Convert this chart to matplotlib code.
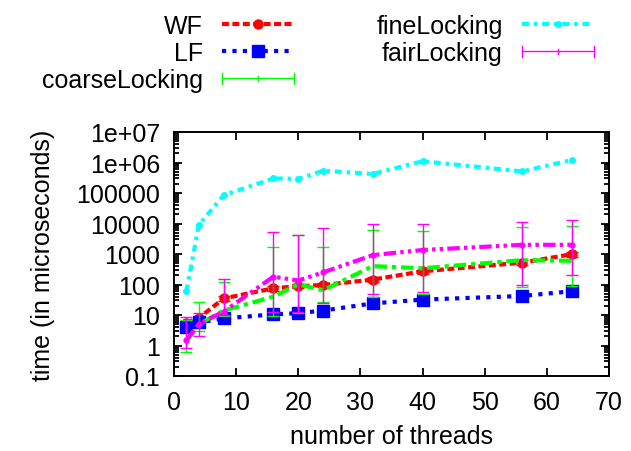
import matplotlib
matplotlib.use('Agg')
import matplotlib.pyplot as plt
from matplotlib.lines import Line2D
from matplotlib.legend_handler import HandlerBase
from matplotlib.ticker import LogLocator, FixedLocator, FixedFormatter, NullFormatter

plt.rcParams['font.family'] = ['Liberation Sans', 'DejaVu Sans']
plt.rcParams['lines.scale_dashes'] = False

# data (time in microseconds)
threads = [2, 4, 8, 16, 20, 24, 32, 40, 56, 64]

wf = [5.5, 8, 35, 75, 88, 96, 145, 270, 520, 980]
wf_lo = [4.5, 6.5, 29, 63, 74, 80, 122, 228, 440, 820]
wf_hi = [6.6, 9.6, 42, 90, 105, 115, 172, 320, 620, 1170]

lf = [4, 5.7, 7.7, 10.5, 11.5, 14, 24, 32, 42, 60]

coarse = [1.4, 5, 14, 40, 100, 65, 400, 340, 630, 600]
coarse_lo = [0.6, 3.1, 9, 9.6, 12, 27, 38, 50, 81, 90]
coarse_hi = [7, 27, 125, 1650, 4300, 1700, 6300, 5500, 7400, 8000]

fine = [60, 9000, 85000, 300000, 290000, 540000, 420000, 1100000, 510000, 1200000]

fair = [1.5, 5, 13, 180, 135, 250, 920, 1350, 2000, 2000]
fair_lo = [0.8, 2.1, 10, 13, 13, 25, 49, 56, 97, 200]
fair_hi = [8.5, 12, 150, 5400, 4300, 7100, 9500, 9500, 11000, 12800]

ytick_vals = [0.1, 1, 10, 100, 1000, 10000, 100000, 1e6, 1e7]
ytick_labels = ['0.1', '1', '10', '100', '1000', '10000', '100000', '1e+06', '1e+07']

RED, BLUE, GREEN, CYAN, MAG = '#ff0000', '#0000ff', '#00ff00', '#00ffff', '#ff00ff'
FS = 18


def err(v, lo, hi):
    return [[a - b for a, b in zip(v, lo)], [c - a for a, c in zip(v, hi)]]


class ErrKey(HandlerBase):
    # gnuplot style key sample for error bars
    def create_artists(self, legend, orig_handle, xdescent, ydescent,
                       width, height, fontsize, trans):
        c = orig_handle.get_color()
        y = height / 2 - ydescent
        x0, x1 = -xdescent, width - xdescent
        arts = [Line2D([x0, x1], [y, y], color=c, lw=1)]
        for xx, h in ((x0, 0.3), ((x0 + x1) / 2, 0.15), (x1, 0.3)):
            arts.append(Line2D([xx, xx], [y - h * height, y + h * height], color=c, lw=1))
        for a in arts:
            a.set_transform(trans)
        return arts


fig = plt.figure(figsize=(6.31, 4.52), dpi=100)
ax = fig.add_axes([174 / 631, 75 / 452, 435 / 631, 244 / 452])

ax.errorbar(threads, wf, yerr=err(wf, wf_lo, wf_hi), fmt='none', ecolor=RED,
            elinewidth=1, capsize=4.3, capthick=1)
l_wf, = ax.plot(threads, wf, color=RED, lw=3, dashes=(5, 2.5), marker='o', ms=6.5)
l_lf, = ax.plot(threads, lf, color=BLUE, lw=3, dashes=(3, 4.5), marker='s', ms=8.5)
ax.errorbar(threads, coarse, yerr=err(coarse, coarse_lo, coarse_hi), fmt='none',
            ecolor=GREEN, elinewidth=1, capsize=4.3, capthick=1)
ax.plot(threads, coarse, color=GREEN, lw=3, dashes=(9, 3.5, 3, 3.5))
l_fine, = ax.plot(threads, fine, color=CYAN, lw=3, dashes=(5, 3.5, 2.5, 3.5),
                  marker='o', ms=4)
ax.errorbar(threads, fair, yerr=err(fair, fair_lo, fair_hi), fmt='none',
            ecolor=MAG, elinewidth=1, capsize=4.3, capthick=1)
ax.plot(threads, fair, color=MAG, lw=3, dashes=(9, 3, 2.5, 3, 2.5, 3),
        marker='o', ms=3.5)

k_coarse = Line2D([], [], color=GREEN)
k_fair = Line2D([], [], color=MAG)

ax.set_xlim(0, 70)
ax.set_ylim(0.1, 1e7)
ax.set_yscale('log')
ax.set_xticks(range(0, 71, 10))
ax.yaxis.set_major_locator(FixedLocator(ytick_vals))
ax.yaxis.set_major_formatter(FixedFormatter(ytick_labels))
ax.yaxis.set_minor_locator(LogLocator(base=10, subs=range(2, 10), numticks=20))
ax.yaxis.set_minor_formatter(NullFormatter())

ax.tick_params(which='both', direction='in', top=True, right=True, width=1.3,
               labelsize=FS, colors='black')
ax.tick_params(which='major', length=6)
ax.tick_params(which='minor', length=3.5)
ax.tick_params(axis='y', pad=10)
ax.tick_params(axis='x', pad=10)
for s in ax.spines.values():
    s.set_linewidth(1.4)

ax.set_xlabel('number of threads', fontsize=FS, labelpad=7)
ax.set_ylabel('time (in microseconds)', fontsize=FS, labelpad=15)

fig.legend([l_wf, l_lf, k_coarse, l_fine, k_fair],
           ['WF', 'LF', 'coarseLocking', 'fineLocking', 'fairLocking'],
           loc='upper left', bbox_to_anchor=(42 / 631, 1 - 15 / 452), ncol=2,
           markerfirst=False, frameon=False, fontsize=FS, borderpad=0,
           borderaxespad=0, handlelength=2.88, handletextpad=0.76,
           columnspacing=3.3, labelspacing=0.12,
           handler_map={k_coarse: ErrKey(), k_fair: ErrKey()})

fig.savefig('out.png', dpi=100)
